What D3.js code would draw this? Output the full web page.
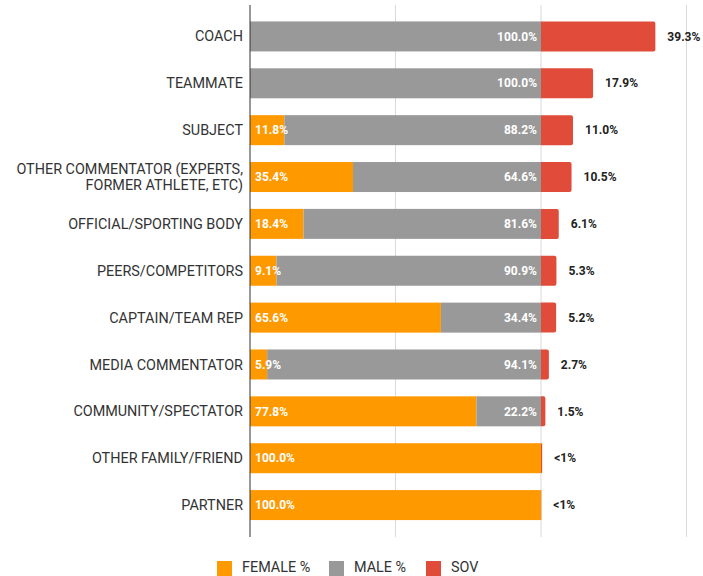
<!DOCTYPE html>
<html><head><meta charset="utf-8">
<script src="https://cdn.jsdelivr.net/npm/d3@7"></script>
<style>body{margin:0;background:#fff;} text{font-family:Roboto, "Noto Sans", sans-serif;}</style>
</head><body>
<svg id="c" width="703" height="576"></svg>
<script>
const categories = ["COACH","TEAMMATE","SUBJECT","OTHER COMMENTATOR (EXPERTS,|FORMER ATHLETE, ETC)","OFFICIAL/SPORTING BODY","PEERS/COMPETITORS","CAPTAIN/TEAM REP","MEDIA COMMENTATOR","COMMUNITY/SPECTATOR","OTHER FAMILY/FRIEND","PARTNER"];
const femalePct = [0, 0, 11.8, 35.4, 18.4, 9.1, 65.6, 5.9, 77.8, 100, 100];
const malePct   = [100, 100, 88.2, 64.6, 81.6, 90.9, 34.4, 94.1, 22.2, 0, 0];
const sov       = [39.3, 17.9, 11.0, 10.5, 6.1, 5.3, 5.2, 2.7, 1.5, 0.4, 0.1];
const sovLabels = ["39.3%","17.9%","11.0%","10.5%","6.1%","5.3%","5.2%","2.7%","1.5%","<1%","<1%"];
const gridTicks = [0, 50, 100, 150];
const seriesNames = ["FEMALE %","MALE %","SOV"];
const colors = ["#FF9900","#999999","#E04B3A"];

const svg = d3.select("#c");
const x = d3.scaleLinear().domain([0,150]).range([250,686.5]);
const y = d3.scaleBand().domain(categories).range([13,528.5]).paddingInner(0.36).paddingOuter(0.18);

// gridlines
svg.append("g").selectAll("line").data(gridTicks.slice(1)).join("line")
  .attr("x1",d=>x(d)).attr("x2",d=>x(d)).attr("y1",5).attr("y2",537)
  .attr("stroke","#d9d9d9").attr("stroke-width",1);

const rows = categories.map((c,i)=>({c, f:femalePct[i], m:malePct[i], s:sov[i], sl:sovLabels[i]}));

const g = svg.append("g");
// SOV bars (rounded right end)
g.selectAll("path.sov").data(rows).join("path").attr("class","sov")
  .attr("fill",colors[2])
  .attr("d",d=>{
    const x0=x(100), x1=x(100+d.s), y0=y(d.c), h=y.bandwidth();
    const r=Math.min(2,(x1-x0));
    return `M${x0},${y0}H${x1-r}Q${x1},${y0} ${x1},${y0+r}V${y0+h-r}Q${x1},${y0+h} ${x1-r},${y0+h}H${x0}Z`;
  });
g.selectAll("rect.f").data(rows).join("rect").attr("class","f")
  .attr("x",x(0)).attr("y",d=>y(d.c)).attr("height",y.bandwidth())
  .attr("width",d=>x(d.f)-x(0)).attr("fill",colors[0]);
g.selectAll("rect.m").data(rows).join("rect").attr("class","m")
  .attr("x",d=>x(d.f)).attr("y",d=>y(d.c)).attr("height",y.bandwidth())
  .attr("width",d=>x(d.f+d.m)-x(d.f)).attr("fill",colors[1]);

// axis line
svg.append("line").attr("x1",x(0)).attr("x2",x(0)).attr("y1",5).attr("y2",537)
  .attr("stroke","#333").attr("stroke-width",1);

// value labels
const lab = svg.append("g").attr("font-size","12px").attr("font-weight","bold");
lab.selectAll("text.fl").data(rows.filter(d=>d.f>0)).join("text").attr("class","fl")
  .attr("x",x(0)+5).attr("y",d=>y(d.c)+y.bandwidth()/2).attr("dy","0.35em")
  .attr("fill","#fff").text(d=>d.f.toFixed(1)+"%");
lab.selectAll("text.ml").data(rows.filter(d=>d.m>0)).join("text").attr("class","ml")
  .attr("x",x(100)-4).attr("y",d=>y(d.c)+y.bandwidth()/2).attr("dy","0.35em")
  .attr("text-anchor","end").attr("fill","#fff").text(d=>d.m.toFixed(1)+"%");
lab.selectAll("text.sl").data(rows).join("text").attr("class","sl")
  .attr("x",d=>x(100+d.s)+12).attr("y",d=>y(d.c)+y.bandwidth()/2).attr("dy","0.35em")
  .attr("fill","#222").text(d=>d.sl);

// category labels
const cl = svg.append("g").attr("font-size","14.4px").attr("fill","#333").attr("text-anchor","end");
rows.forEach(d=>{
  const parts=d.c.split("|");
  const cy=y(d.c)+y.bandwidth()/2;
  parts.forEach((p,j)=>{
    cl.append("text").attr("x",243).attr("y",cy+(j-(parts.length-1)/2)*16).attr("dy","0.35em").text(p);
  });
});

// legend
const legX=[217,329,426];
const leg=svg.append("g");
seriesNames.forEach((n,i)=>{
  leg.append("rect").attr("x",legX[i]).attr("y",561).attr("width",15).attr("height",15).attr("fill",colors[i]);
  leg.append("text").attr("x",legX[i]+25).attr("y",572).attr("font-size","14.4px").attr("fill","#333").text(n);
});
</script>
</body></html>
